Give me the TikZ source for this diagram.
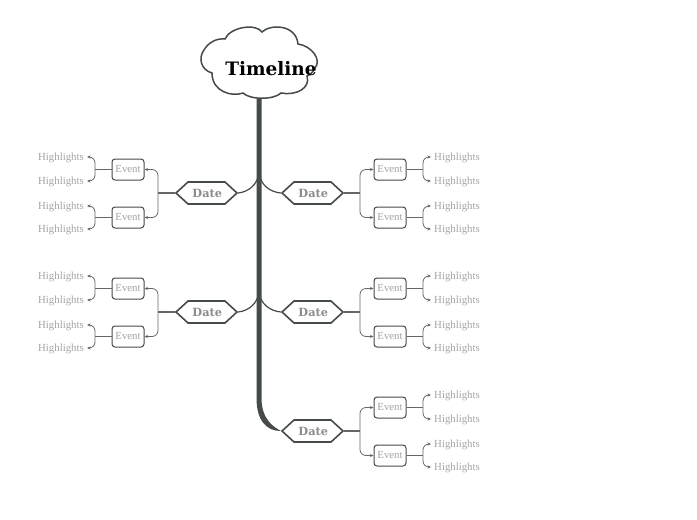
\documentclass[tikz,border=0pt]{standalone}
\usepackage{fontspec}
\setmainfont{Liberation Serif}
\newfontfamily\slabfont{DejaVu Serif}[BoldFont={DejaVu Serif Bold}]
\usetikzlibrary{shapes.symbols,arrows.meta}
\definecolor{linedark}{HTML}{454A4A}
\definecolor{linemid}{HTML}{666666}
\definecolor{textgrey}{HTML}{A3A3A3}
\definecolor{dategrey}{HTML}{8C8C8C}
\tikzset{
  x=1pt,y=-1pt,
  datebox/.style={signal,signal to=east and west,signal pointer angle=85,draw=linedark,line width=1.6pt,fill=white,
    minimum width=61pt,minimum height=22pt,inner sep=0pt,text=dategrey,font=\slabfont\bfseries\fontsize{11.3}{13}\selectfont},
  eventbox/.style={draw=linedark,line width=1pt,rounded corners=3pt,fill=white,minimum width=32pt,minimum height=21pt,
    inner sep=0pt,text=textgrey,font=\fontsize{10.8}{12}\selectfont},
  hltext/.style={text=textgrey,inner sep=0pt,font=\fontsize{10.8}{12}\selectfont},
  trunk/.style={draw=linedark,line width=1.2pt},
  datestem/.style={draw=linemid,line width=1.2pt},
  twig/.style={draw=linemid,line width=0.8pt,rounded corners=6pt,-{Stealth[length=3.5pt,width=3pt]}},
  stem/.style={draw=linemid,line width=1.2pt},
}
\newcommand{\mkbranch}[5]{% name, cy, sign, outward anchor, inward anchor
  \node[datebox] (#1) at ({259+#3*53.5+0.5-0.5*#3},#2) {\kern1.5pt Date};
  \foreach \e/\ey/\ha/\hb in {a/-23.5/-36/-12,b/24.5/13/36}{
    \node[eventbox] (#1\e) at ({259+#3*131},{#2+\ey}) {\raisebox{-1pt}{Event}};
    \node[hltext,anchor=#5] (#1\e1) at ({259+#3*175},{#2+\ha+0.8}) {Highlights};
    \node[hltext,anchor=#5] (#1\e2) at ({259+#3*175},{#2+\hb+0.8}) {Highlights};
    \coordinate (#1\e j) at ({259+#3*164},{#2+\ey});
    \coordinate (#1\e t) at ({259+#3*172},{#2+\ha});
    \coordinate (#1\e u) at ({259+#3*172},{#2+\hb});
    \coordinate (#1\e v) at ({259+#3*101},{#2+\ey});
    \coordinate (#1\e w) at ({259+#3*101},#2);
    \draw[stem] (#1\e.#4) -- (#1\e j);
    \draw[twig] (#1\e j) -- (#1\e j |- #1\e t) -- (#1\e t);
    \draw[twig] (#1\e j) -- (#1\e j |- #1\e u) -- (#1\e u);
    \draw[twig] (#1\e w) -- (#1\e v) -- (#1\e.#5);
  }
  \draw[datestem] (#1.#4) -- (#1aw);
}
\begin{document}
\begin{tikzpicture}
\useasboundingbox (0,0) rectangle (697,520);
\mkbranch{da}{193}{1}{east}{west}
\mkbranch{db}{312}{1}{east}{west}
\mkbranch{dc}{431}{1}{east}{west}
\mkbranch{dd}{193}{-1}{west}{east}
\mkbranch{de}{312}{-1}{west}{east}
% spine
\coordinate (spu) at (259,172);
\coordinate (spv) at (259,291);
\fill[linedark] (256.5,97) -- (256.5,398) .. controls (256.5,420) and (266,431) .. (dc.west)
  .. controls (274,427) and (261.5,420) .. (261.5,398) -- (261.5,97) -- cycle;
\draw[trunk] (spu) .. controls (260,185) and (270,192) .. (da.west);
\draw[trunk] (spu) .. controls (258,185) and (248,192) .. (dd.east);
\draw[trunk] (spv) .. controls (260,304) and (270,311) .. (db.west);
\draw[trunk] (spv) .. controls (258,304) and (248,311) .. (de.east);
% cloud
\draw[draw=linedark,line width=1.5pt,fill=white]
  (225,39) .. controls (230,27) and (256,23) .. (262,32)
  .. controls (270,24) and (296,24) .. (298,44)
  .. controls (312,46) and (322,60) .. (315,68)
  .. controls (313,72) and (310,75) .. (307,76)
  .. controls (311,88) and (296,96) .. (281,93)
  .. controls (274,100) and (250,100) .. (243,93)
  .. controls (232,97) and (212,92) .. (212,73)
  .. controls (201,70) and (198,58) .. (204,50)
  .. controls (208,43) and (216,38) .. (225,39) -- cycle;
\node[inner sep=0pt,font=\slabfont\bfseries\fontsize{18.5}{22}\selectfont] (title) at (271,68.5) {Timeline};
\end{tikzpicture}
\end{document}
